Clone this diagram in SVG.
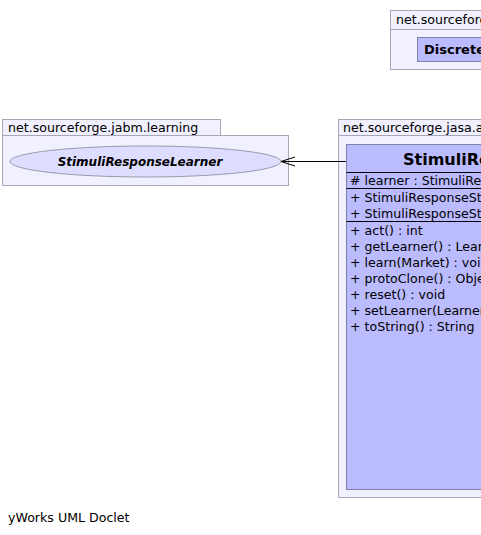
<svg xmlns="http://www.w3.org/2000/svg" width="481" height="535" viewBox="0 0 481 535">
<style>
.pkg{fill:#f0f0ff;stroke:#a6a6b6;stroke-width:1}
.cls{fill:#bbbbff;stroke:#8080a8;stroke-width:1}
.sep{stroke:#000;stroke-width:1}
.t{font-family:"DejaVu Sans",sans-serif;font-size:12.6px;fill:#000}
.b{font-family:"DejaVu Sans",sans-serif;font-weight:bold;fill:#000}
</style>
<defs>
<marker id="open" markerWidth="16" markerHeight="12" refX="15" refY="6" orient="auto" markerUnits="userSpaceOnUse">
<path d="M1,1.5 L15,6 L1,10.5" fill="none" stroke="#000" stroke-width="1"/>
</marker>
</defs>
<rect width="481" height="535" fill="#fff"/>
<g id="pkg-top">
<rect class="pkg" x="390.5" y="10.5" width="140" height="19"/>
<rect class="pkg" x="390.5" y="29.5" width="200" height="40"/>
<text class="t" x="396" y="24">net.sourceforge.jasa.agent</text>
</g>
<g id="node-discrete">
<rect class="cls" x="417.5" y="37.5" width="140" height="24"/>
<text class="b" x="424" y="54" font-size="13">DiscreteLearnerStrategy</text>
</g>
<g id="pkg-learning">
<rect class="pkg" x="2.5" y="119.5" width="218" height="16"/>
<rect class="pkg" x="2.5" y="135.5" width="286" height="50"/>
<text class="t" x="8" y="132">net.sourceforge.jabm.learning</text>
</g>
<g id="node-learner">
<ellipse cx="145.5" cy="161.5" rx="135.5" ry="15.5" fill="#ddddff" stroke="#9a9aae"/>
<text class="b" x="140" y="166" font-size="12" font-style="italic" text-anchor="middle">StimuliResponseLearner</text>
</g>
<g id="pkg-strategy">
<rect class="pkg" x="338.5" y="119.5" width="200" height="16"/>
<rect class="pkg" x="338.5" y="135.5" width="300" height="362"/>
<text class="t" x="343" y="132">net.sourceforge.jasa.agent.strategy</text>
</g>
<g id="node-strategy">
<rect class="cls" x="346.5" y="144.5" width="280" height="345"/>
<text class="b" x="403" y="165" font-size="16">StimuliResponseStrategy</text>
<line class="sep" x1="346.5" y1="172.5" x2="626" y2="172.5"/>
<text class="t" x="350" y="185"># learner : StimuliResponseLearner</text>
<line class="sep" x1="346.5" y1="188.5" x2="626" y2="188.5"/>
<text class="t" x="350" y="202">+ StimuliResponseStrategy()</text>
<text class="t" x="350" y="218">+ StimuliResponseStrategy(TradingAgent)</text>
<line class="sep" x1="346.5" y1="221.5" x2="626" y2="221.5"/>
<text class="t" x="350" y="235">+ act() : int</text>
<text class="t" x="350" y="251">+ getLearner() : Learner</text>
<text class="t" x="350" y="267">+ learn(Market) : void</text>
<text class="t" x="350" y="283">+ protoClone() : Object</text>
<text class="t" x="350" y="299">+ reset() : void</text>
<text class="t" x="350" y="315">+ setLearner(Learner) : void</text>
<text class="t" x="350" y="331">+ toString() : String</text>
</g>
<g id="connectors">
<line x1="346" y1="161.5" x2="281" y2="161.5" stroke="#000" stroke-width="1" marker-end="url(#open)"/>
</g>
<text class="t" x="8" y="522">yWorks UML Doclet</text>
</svg>
